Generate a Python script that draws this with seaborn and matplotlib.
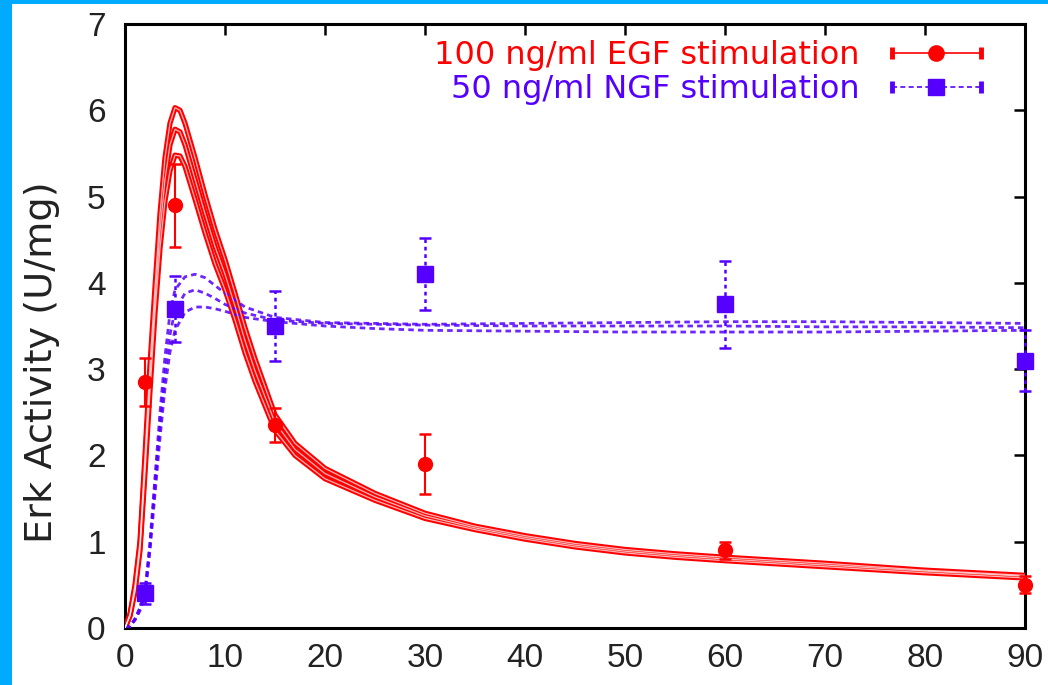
import matplotlib
matplotlib.use("Agg")
import matplotlib.pyplot as plt
import numpy as np
import seaborn as sns
from matplotlib.lines import Line2D
from matplotlib.patches import Rectangle
from matplotlib.legend_handler import HandlerLine2D

# ---------------- data ----------------
t_red = [0, 0.5, 1, 1.5, 2, 2.5, 3, 3.5, 4, 4.5, 5, 5.5, 6, 7, 8, 9, 10, 11, 12, 13,
         15, 17, 20, 25, 30, 35, 40, 45, 50, 55, 60, 70, 80, 90]
red_hi = [0, 0.16, 0.5, 1.0, 2.0, 3.05, 3.95, 4.8, 5.45, 5.85, 6.03, 6.0, 5.85, 5.45, 5.02,
          4.62, 4.27, 3.88, 3.48, 3.12, 2.47, 2.14, 1.85, 1.56, 1.33, 1.18, 1.07, 0.98,
          0.91, 0.86, 0.82, 0.75, 0.67, 0.61]
red_mid = [0, 0.15, 0.45, 0.95, 1.9, 2.9, 3.8, 4.6, 5.2, 5.6, 5.78, 5.75, 5.6, 5.2, 4.8,
           4.42, 4.1, 3.73, 3.33, 2.98, 2.38, 2.07, 1.79, 1.52, 1.3, 1.16, 1.05, 0.96,
           0.89, 0.84, 0.8, 0.73, 0.66, 0.6]
red_lo = [0, 0.14, 0.42, 0.9, 1.8, 2.75, 3.65, 4.4, 4.95, 5.3, 5.48, 5.47, 5.35, 4.97, 4.58,
          4.22, 3.92, 3.57, 3.19, 2.86, 2.29, 2.0, 1.73, 1.48, 1.27, 1.14, 1.03, 0.94,
          0.87, 0.82, 0.78, 0.71, 0.64, 0.58]

t_blue = [0, 0.5, 1, 1.5, 2, 2.5, 3, 3.5, 4, 4.5, 5, 6, 7, 8, 9, 10, 12, 15, 20, 25, 30,
          40, 50, 60, 70, 80, 90]
blue_hi = [0, 0.02, 0.11, 0.24, 0.43, 1.0, 1.75, 2.5, 3.15, 3.65, 3.92, 4.07, 4.1, 4.06,
           3.97, 3.88, 3.72, 3.6, 3.54, 3.53, 3.52, 3.53, 3.54, 3.55, 3.55, 3.54, 3.53]
blue_mid = [0, 0.02, 0.1, 0.22, 0.4, 0.95, 1.65, 2.35, 2.95, 3.4, 3.68, 3.88, 3.92, 3.88,
            3.82, 3.75, 3.65, 3.57, 3.53, 3.52, 3.51, 3.5, 3.5, 3.5, 3.49, 3.49, 3.48]
blue_lo = [0, 0.02, 0.09, 0.2, 0.37, 0.9, 1.55, 2.2, 2.78, 3.2, 3.45, 3.66, 3.72, 3.72,
           3.7, 3.67, 3.6, 3.55, 3.5, 3.47, 3.45, 3.44, 3.43, 3.43, 3.43, 3.44, 3.45]

egf_t = [2, 5, 15, 30, 60, 90]
egf_v = [2.85, 4.9, 2.35, 1.9, 0.9, 0.5]
egf_err = [0.28, 0.48, 0.2, 0.35, 0.1, 0.1]

ngf_t = [2, 5, 15, 30, 60, 90]
ngf_v = [0.4, 3.7, 3.5, 4.1, 3.75, 3.1]
ngf_err = [0.12, 0.38, 0.4, 0.42, 0.5, 0.35]

labels = ["100 ng/ml EGF stimulation", "50 ng/ml NGF stimulation"]
x_ticks = [0, 10, 20, 30, 40, 50, 60, 70, 80, 90]
y_ticks = [0, 1, 2, 3, 4, 5, 6, 7]

RED = "#ff0000"
BLUE = "#5500ff"
TXT = "#222222"

# ---------------- figure ----------------
sns.set_theme(style="white")
plt.rcParams["font.family"] = ["Liberation Sans", "DejaVu Sans"]

fig = plt.figure(figsize=(10.48, 6.85), dpi=100, facecolor="#00aaff")
fig.add_artist(Rectangle((12 / 1048, 0), 1 - 12 / 1048, 1 - 4 / 685,
                         transform=fig.transFigure, facecolor="white",
                         edgecolor="none", zorder=-10))
ax = fig.add_axes([125 / 1048, 57 / 685, 900 / 1048, 604 / 685])
ax.set_facecolor("white")

# red model curves (hollow look)
for vals in (red_hi, red_mid, red_lo):
    sns.lineplot(x=t_red, y=vals, ax=ax, color=RED, lw=3.8, estimator=None,
                 sort=False, zorder=3)
for vals in (red_hi, red_mid, red_lo):
    sns.lineplot(x=t_red, y=vals, ax=ax, color="white", lw=0.9, alpha=0.7,
                 estimator=None, sort=False, zorder=3.1)

# blue model curves (dotted)
for vals in (blue_hi, blue_mid, blue_lo):
    sns.lineplot(x=t_blue, y=vals, ax=ax, color=BLUE, lw=2.0, estimator=None,
                 sort=False, zorder=3, linestyle=(0, (2.0, 1.5)), alpha=0.85)

# data with error bars
ax.errorbar(egf_t, egf_v, yerr=egf_err, fmt="o", color=RED, ms=10, capsize=4,
            elinewidth=1.5, capthick=1.8, zorder=5, clip_on=False)
eb = ax.errorbar(ngf_t, ngf_v, yerr=ngf_err, fmt="s", color=BLUE, ms=11, capsize=4,
                 elinewidth=1.8, capthick=1.8, zorder=5, clip_on=False)
for c in eb[2]:
    c.set_linestyle((0, (1.5, 1.5)))

# axes styling
ax.set_xlim(0, 90)
ax.set_ylim(0, 7)
ax.set_xticks(x_ticks)
ax.set_yticks(y_ticks)
ax.tick_params(direction="in", length=8, width=1.8, top=True, right=True,
               labelsize=24, colors="black", labelcolor=TXT)
ax.tick_params(axis="x", pad=11)
ax.tick_params(axis="y", pad=14)
for s in ax.spines.values():
    s.set_visible(True)
    s.set_color("black")
    s.set_linewidth(2.2)
ax.set_xlabel("")
ax.set_ylabel("Erk Activity (U/mg)", fontsize=27.5, color=TXT, family="DejaVu Sans")
ax.yaxis.set_label_coords(-0.072, 0.44)

# legend (gnuplot style: text left, sample right)
h_red_line = Line2D([], [], color=RED, lw=1.2, marker="|", ms=9, mew=3.5)
h_red_mk = Line2D([], [], color=RED, lw=0, marker="o", ms=11)
h_blue_line = Line2D([], [], color=BLUE, lw=1.2, ls=(0, (3, 2)), marker="|", ms=9, mew=3.5)
h_blue_mk = Line2D([], [], color=BLUE, lw=0, marker="s", ms=12)
hmap = {h_red_line: HandlerLine2D(numpoints=2), h_blue_line: HandlerLine2D(numpoints=2),
        h_red_mk: HandlerLine2D(numpoints=1), h_blue_mk: HandlerLine2D(numpoints=1)}
leg = ax.legend(handles=[(h_red_line, h_red_mk), (h_blue_line, h_blue_mk)], labels=labels,
                handler_map=hmap, loc="upper right", bbox_to_anchor=(0.962, 0.973),
                markerfirst=False, frameon=False,
                prop={"family": "DejaVu Sans", "size": 23}, handlelength=3.4,
                handletextpad=0.7, labelspacing=0.08, borderpad=0, borderaxespad=0)
for txt, col in zip(leg.get_texts(), [RED, BLUE]):
    txt.set_color(col)

fig.savefig("out.png", dpi=100, facecolor=fig.get_facecolor())
